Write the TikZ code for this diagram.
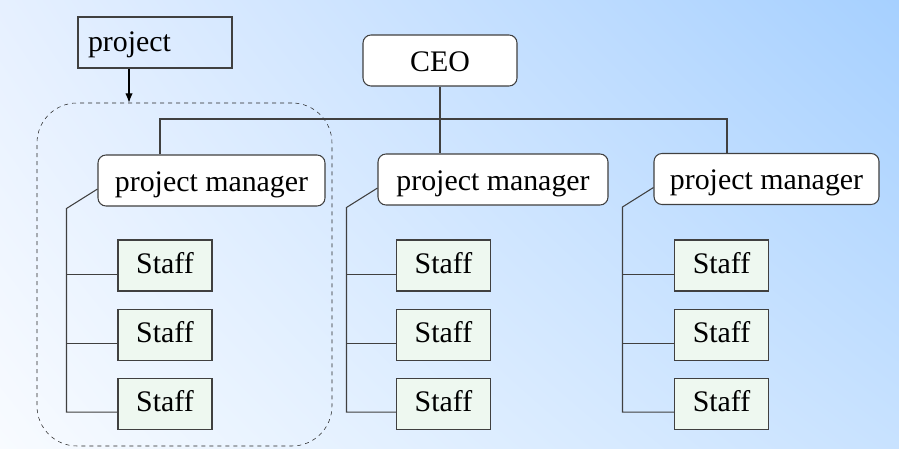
\documentclass[tikz,border=0pt]{standalone}
\usepackage{fontspec}
\setmainfont[Ligatures=NoCommon]{Liberation Serif}
\usepackage{tikz}
\usetikzlibrary{arrows.meta,positioning,calc,shadings}
\definecolor{BgLL}{HTML}{F8FBFF}
\definecolor{BgUL}{HTML}{E6F0FF}
\definecolor{BgUR}{HTML}{A6D0FF}
\definecolor{BgLR}{HTML}{C8E2FF}
\definecolor{StaffFill}{HTML}{EEF8F0}
\colorlet{Edge}{black!75}

\begin{document}
\begin{tikzpicture}[
    x=0.75pt, y=-0.75pt,
    every node/.style={font={\fontsize{22.4}{26}\selectfont}},
    rect/.style={draw=Edge, thick, rectangle, inner sep=0pt, text depth=0pt},
    headbox/.style={rect, fill=white, rounded corners=6pt, minimum height=38.25pt, text height=16pt},
    staffbox/.style={rect, fill=StaffFill, minimum width=70.5pt, minimum height=38.25pt, text height=12pt},
    labelbox/.style={rect, inner xsep=7.5pt, text width=100.5pt, align=left, minimum height=38.25pt, text height=14pt},
    group/.style={draw=black!85, dashed, rounded corners=30pt, minimum width=221.25pt, minimum height=257.25pt},
    link/.style={draw=Edge, thick}
  ]
  \shade[lower left=BgLL, upper left=BgUL, upper right=BgUR, lower right=BgLR]
  (0,0) rectangle (899,449);
  \useasboundingbox (0,0) rectangle (899,449);

  \node[labelbox] (project) at (155,42.5) {project};
  \node[headbox, minimum width=115.5pt] (ceo) at (440,60.5) {CEO};

  \node[group] (team) at (184.5,274.5) {};

  \node[headbox, minimum width=170.25pt] (pm1) at (211.5,180.5) {project manager};
  \node[headbox, minimum width=172.5pt] (pm2) at (493,179.5) {project manager};
  \node[headbox, minimum width=168.75pt] (pm3) at (766.5,179) {project manager};

  % staff under each project manager
  \foreach \c/\x in {1/165,2/443.5,3/721.5} {
    \node[staffbox] (s\c1) at (\x,265.5) {Staff};
    \node[staffbox, below=12.75pt of s\c1] (s\c2) {Staff};
    \node[staffbox, below=12.75pt of s\c2] (s\c3) {Staff};
    \coordinate (top\c) at ($(pm\c.west)+(-23.25pt,-21pt)$);
    \coordinate (b\c1) at ([yshift=-6.4pt]s\c1.west);
    \coordinate (b\c2) at ([yshift=-6.4pt]s\c2.west);
    \coordinate (b\c3) at ([yshift=-6.4pt]s\c3.west);
    \draw[link] ([yshift=-6.4pt]pm\c.west) -- (top\c) -- (top\c |- b\c3) -- (b\c3);
    \draw[link] (top\c |- b\c1) -- (b\c1);
    \draw[link] (top\c |- b\c2) -- (b\c2);
  }

  \coordinate (busL) at (160,119);
  \coordinate (busR) at (727,119);
  \draw[link] (busL |- pm1.north) -- (busL) -- (busR) -- (busR |- pm3.north);
  \draw[link] (ceo.south) -- (ceo.south |- pm2.north);

  \draw[thick, -{Latex[length=7pt,width=5.5pt]}] ([xshift=-19.5pt]project.south) -- ([xshift=-19.5pt]project.south |- team.north);
\end{tikzpicture}
\end{document}
